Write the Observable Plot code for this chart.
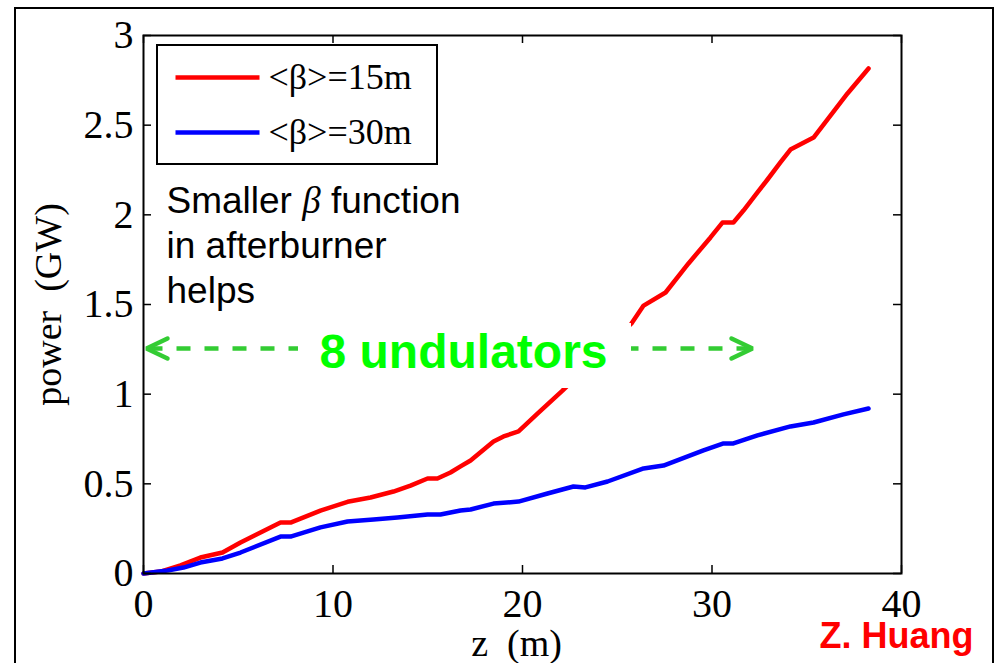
<!DOCTYPE html>
<html><head><meta charset="utf-8">
<script src="https://cdn.jsdelivr.net/npm/d3@7"></script>
<script src="https://cdn.jsdelivr.net/npm/@observablehq/plot@0.6"></script>
<style>
html,body{margin:0;padding:0;background:#fff;overflow:hidden;}
#wrap{position:relative;width:1002px;height:663px;background:#fff;}
#chart{position:absolute;left:0;top:0;}
#border{position:absolute;left:14px;top:7px;width:976px;height:700px;border:2px solid #000;pointer-events:none;}
</style></head><body>
<div id="wrap"><div id="chart"></div><div id="border"></div></div>
<script>
// ---- data ----
const zRed  = [0, 0.9, 1.95, 3.0, 4.17, 5.12, 7.23, 7.76, 9.34, 10.77, 11.98, 13.19, 14.09, 14.99, 15.51, 16.2, 16.73, 17.26, 18.47, 19.0, 19.79, 20.79, 22.11, 25.75, 26.39, 27.55, 28.76, 29.92, 30.55, 31.13, 31.66, 32.4, 32.93, 33.61, 34.14, 35.36, 37.15, 38.26];
const pRed  = [0, 0.011, 0.045, 0.089, 0.117, 0.173, 0.284, 0.284, 0.351, 0.40, 0.424, 0.457, 0.49, 0.53, 0.53, 0.563, 0.597, 0.63, 0.736, 0.764, 0.792, 0.892, 1.02, 1.394, 1.494, 1.567, 1.729, 1.874, 1.957, 1.957, 2.024, 2.125, 2.197, 2.292, 2.364, 2.431, 2.677, 2.816];
const zBlue = [0, 1.27, 2.11, 3.0, 4.17, 5.12, 7.23, 7.76, 9.34, 10.77, 12.14, 13.4, 14.99, 15.67, 16.73, 17.26, 18.47, 19.79, 21.32, 22.69, 23.32, 24.49, 26.39, 27.44, 29.55, 30.61, 31.13, 32.4, 34.14, 35.36, 36.94, 38.26];
const pBlue = [0, 0.017, 0.033, 0.061, 0.084, 0.117, 0.206, 0.206, 0.257, 0.29, 0.301, 0.312, 0.329, 0.329, 0.351, 0.357, 0.39, 0.401, 0.446, 0.485, 0.48, 0.513, 0.586, 0.602, 0.686, 0.725, 0.725, 0.77, 0.82, 0.842, 0.887, 0.92];
const seriesNames = ["<β>=15m", "<β>=30m"];
const seriesColors = ["#ff0000", "#0000ff"];
const xTicks = [0, 10, 20, 30, 40];
const yTicks = [0, 0.5, 1, 1.5, 2, 2.5, 3];
const xLabel = "z  (m)";
const yLabel = "power  (GW)";
const noteLines = ["Smaller β function", "in afterburner", "helps"];
const banner = "8 undulators";
const credit = "Z. Huang";

// ---- layout ----
const W = 1002, H = 663, mL = 143, mR = 101, mT = 35, mB = 90;
const fw = W - mL - mR, fh = H - mT - mB;
const kx = fw / 40, ky = fh / 3;
const X = p => (p - mL) / kx;          // page px -> data x
const Y = p => (H - mB - p) / ky;      // page px -> data y
const dX = p => p / kx, dY = p => p / ky;

const red = zRed.map((z, i) => ({z, p: pRed[i]}));
const blue = zBlue.map((z, i) => ({z, p: pBlue[i]}));

const green = "#33cc33";
const ay = Y(348), aL = X(146), aR = X(752);
const chevrons = [
  {id: "L", x: aL + dX(21), y: ay + dY(10)}, {id: "L", x: aL, y: ay}, {id: "L", x: aL + dX(21), y: ay - dY(10)},
  {id: "R", x: aR - dX(21), y: ay + dY(10)}, {id: "R", x: aR, y: ay}, {id: "R", x: aR - dX(21), y: ay - dY(10)}
];

const legTop = 3 - dY(10), legBot = 3 - dY(129), legL = dX(14), legR = dX(294);
const legend = seriesNames.map((name, i) => ({
  name, color: seriesColors[i],
  y: legTop - dY(i === 0 ? 32 : 87)
}));

const serif = "Liberation Serif, Times New Roman, serif";
const sans = "Liberation Sans, Arial, sans-serif";

const chart = Plot.plot({
  width: W, height: H,
  marginLeft: mL, marginRight: mR, marginTop: mT, marginBottom: mB,
  x: {domain: [0, 40], label: null},
  y: {domain: [0, 3], label: null},
  style: {background: "transparent", fontFamily: serif, color: "#000"},
  marks: [
    Plot.line(red, {x: "z", y: "p", stroke: seriesColors[0], strokeWidth: 4.5}),
    Plot.line(blue, {x: "z", y: "p", stroke: seriesColors[1], strokeWidth: 4.5}),
    // dashed double arrow
    Plot.link([{x1: aL + dX(2), x2: aR - dX(2), y: ay}], {x1: "x1", x2: "x2", y1: "y", y2: "y", stroke: green, strokeWidth: 4.5, strokeDasharray: "14,14"}),
    Plot.line(chevrons, {x: "x", y: "y", z: "id", stroke: green, strokeWidth: 4.5, strokeLinecap: "round", strokeLinejoin: "miter"}),
    // banner text with white box
    Plot.rect([{}], {x1: () => X(298), x2: () => X(631), y1: () => Y(388), y2: () => Y(323), fill: "white"}),
    Plot.text([banner], {x: () => X(463), y: () => Y(352), text: d => d, fill: "#00ff00", fontSize: 48, fontWeight: "bold", fontFamily: sans, lineAnchor: "middle", textAnchor: "middle"}),
    // note
    Plot.text([noteLines.join("\n")], {x: () => X(166), y: () => Y(180), text: d => d, textAnchor: "start", lineAnchor: "top", lineHeight: 1.22, fontSize: 37, fontFamily: sans, fill: "black"}),
    // legend
    Plot.rect([{}], {x1: () => legL, x2: () => legR, y1: () => legBot, y2: () => legTop, fill: "white", stroke: "black", strokeWidth: 2}),
    Plot.link(legend, {x1: () => dX(32), x2: () => dX(116), y1: "y", y2: "y", stroke: "color", strokeWidth: 4.5}),
    Plot.text(legend, {x: () => dX(125), y: "y", text: "name", textAnchor: "start", lineAnchor: "middle", fontSize: 36, fontFamily: serif, fill: "black"}),
    // ticks (inward)
    Plot.tickX(xTicks, {x: d => d, insetTop: fh - 8, stroke: "black", strokeWidth: 1.5}),
    Plot.tickX(xTicks, {x: d => d, insetBottom: fh - 8, stroke: "black", strokeWidth: 1.5}),
    Plot.tickY(yTicks, {y: d => d, insetRight: fw - 8, stroke: "black", strokeWidth: 1.5}),
    Plot.tickY(yTicks, {y: d => d, insetLeft: fw - 8, stroke: "black", strokeWidth: 1.5}),
    Plot.frame({stroke: "black", strokeWidth: 2}),
    Plot.axisX(xTicks, {tickSize: 0, tickPadding: 15, fontSize: 40, fontFamily: serif, label: null, tickFormat: d => String(d)}),
    Plot.axisY(yTicks, {tickSize: 0, tickPadding: 10, fontSize: 40, fontFamily: serif, label: null, tickFormat: d => String(d)}),
    // axis titles and credit
    Plot.text([yLabel], {frameAnchor: "left", dx: -95, rotate: -90, text: d => d, textAnchor: "middle", fontSize: 38, fontFamily: serif, lineAnchor: "middle", fill: "black"}),
    Plot.text([xLabel], {frameAnchor: "bottom", dx: -6, dy: 70, text: d => d, textAnchor: "middle", fontSize: 38, fontFamily: serif, lineAnchor: "middle", fill: "black"}),
    Plot.text([credit], {frameAnchor: "bottom-right", dx: -82, dy: 74, text: d => d, textAnchor: "start", lineAnchor: "bottom", fontSize: 36, fontWeight: "bold", fontFamily: sans, fill: "#ff0000"})
  ]
});
document.getElementById("chart").appendChild(chart);

// italic β in the note
d3.select(chart).selectAll("tspan").each(function() {
  const t = this.textContent;
  if (t === noteLines[0]) {
    const [a, b] = t.split("β");
    const el = d3.select(this).text("");
    el.append("tspan").text(a);
    el.append("tspan").attr("font-style", "italic").attr("font-family", serif).text("β");
    el.append("tspan").text(b);
  }
});
</script>
</body></html>
